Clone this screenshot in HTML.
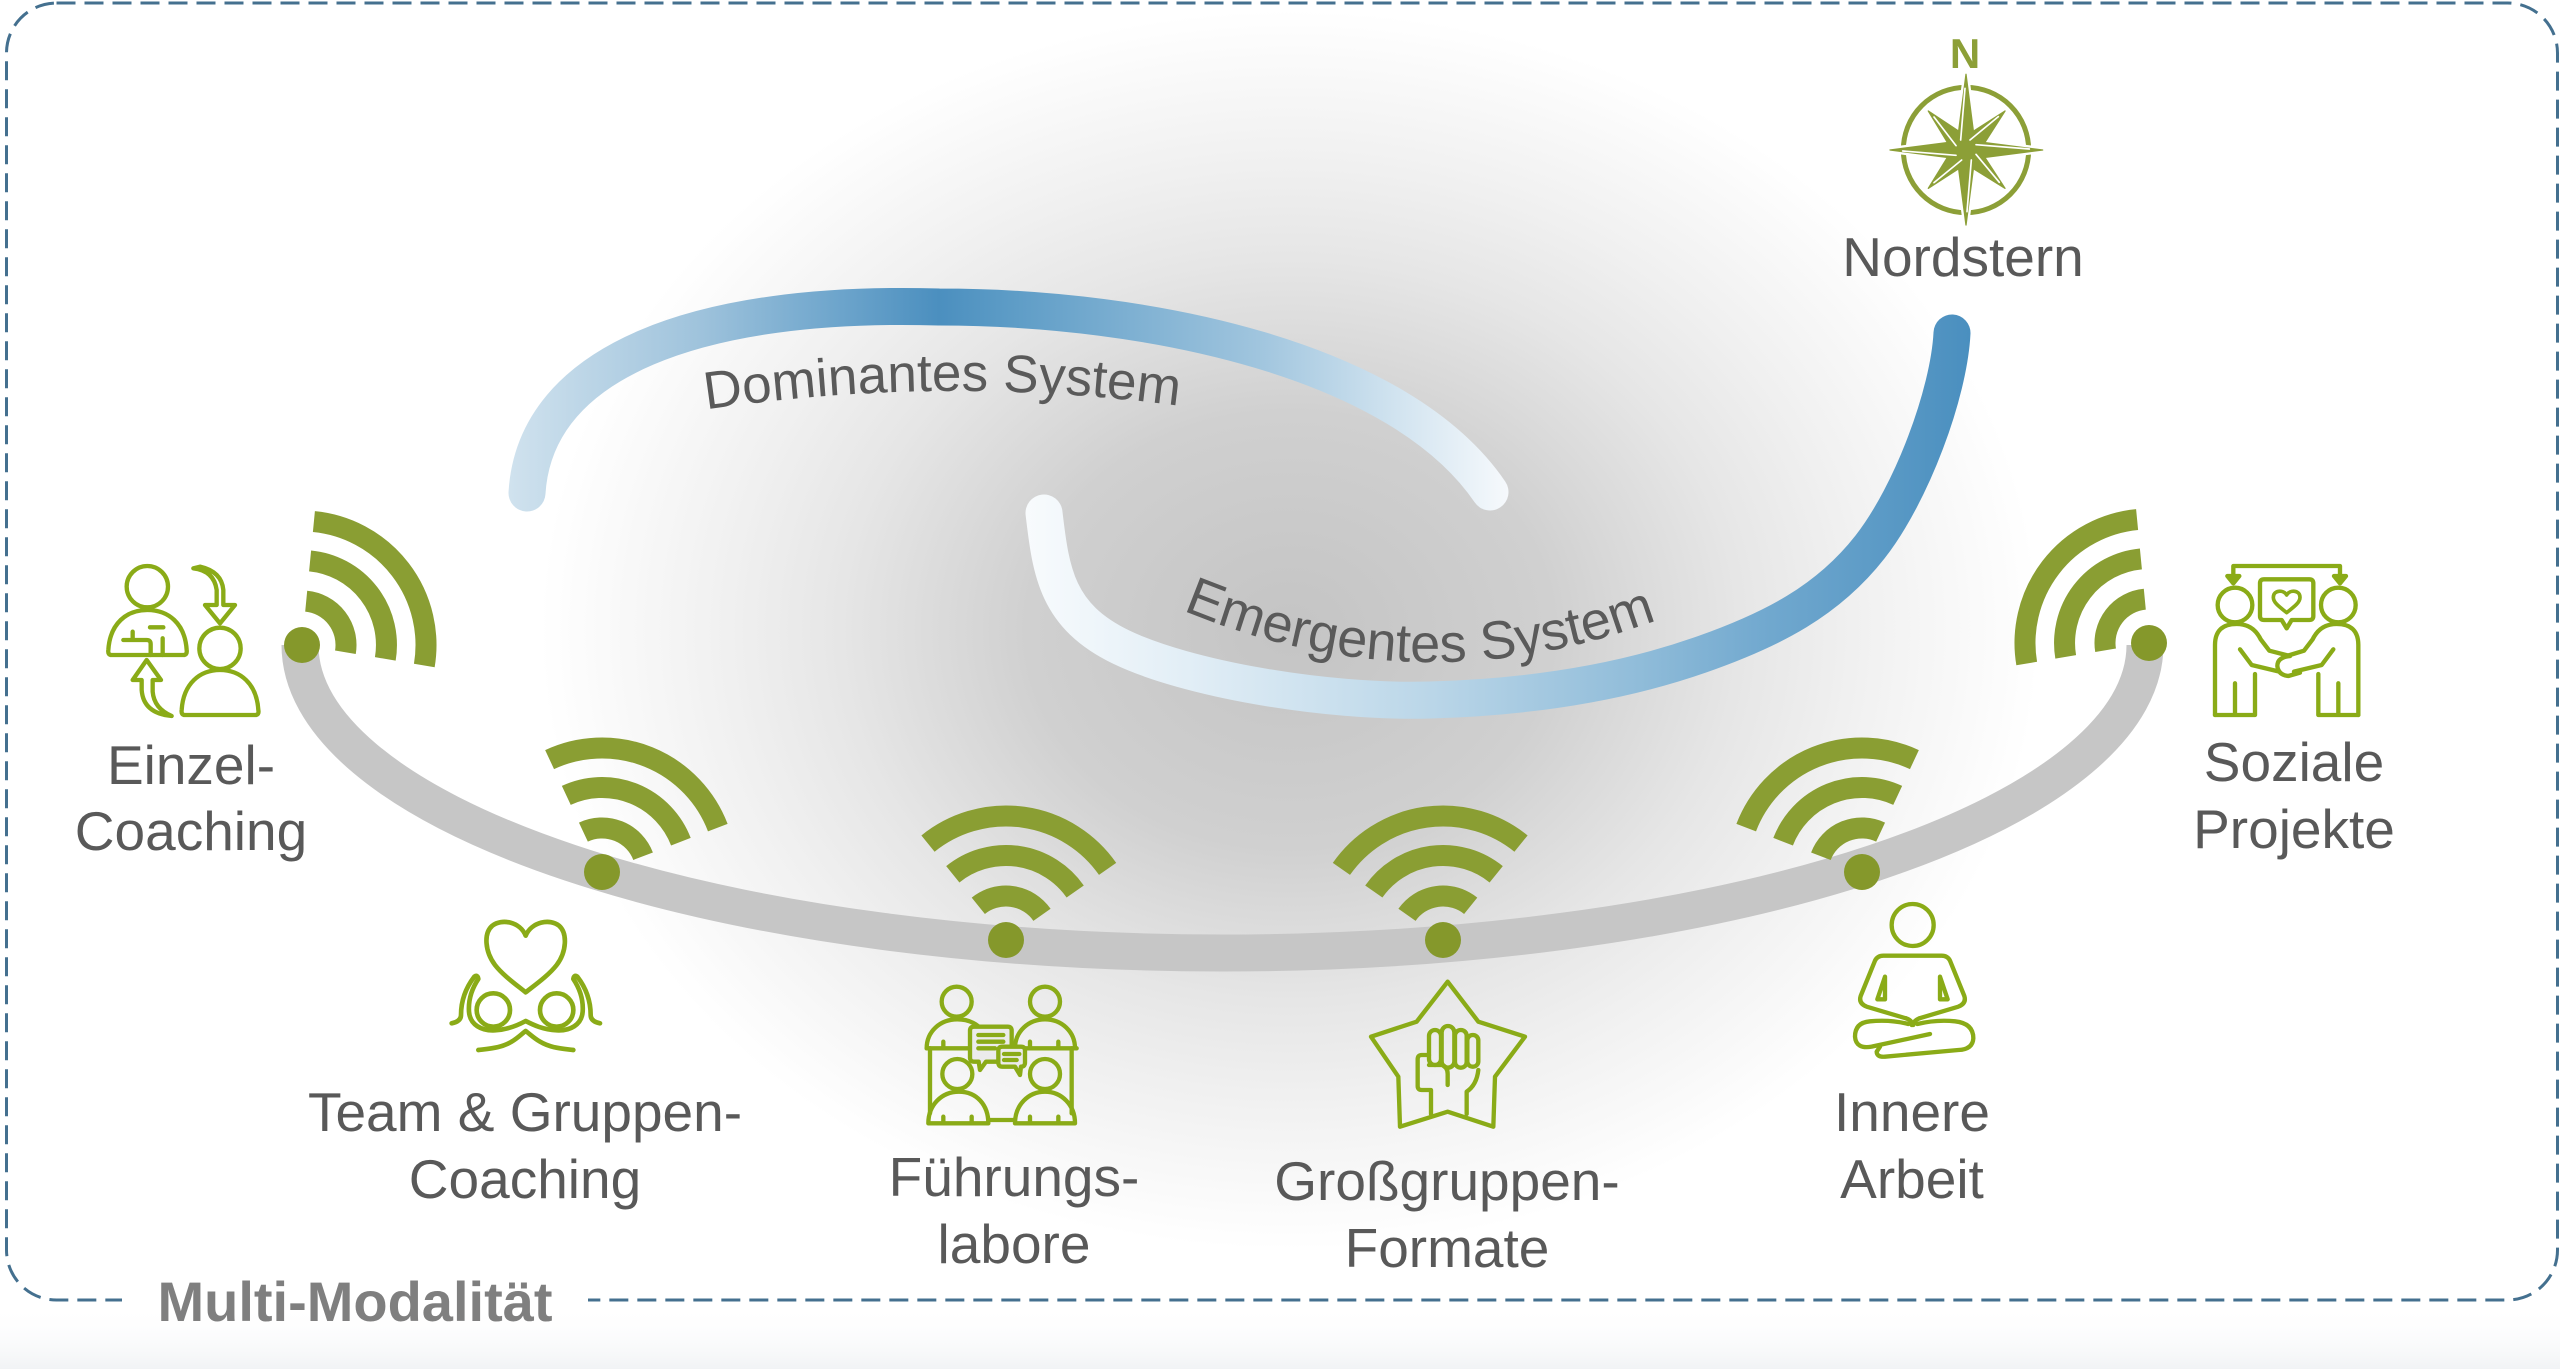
<!DOCTYPE html>
<html>
<head>
<meta charset="utf-8">
<style>
  html, body { margin: 0; padding: 0; background: #ffffff; }
  body { width: 2560px; height: 1369px; overflow: hidden; }
  svg { display: block; }
  text { font-family: "Liberation Sans", "DejaVu Sans", sans-serif; }
</style>
</head>
<body>
<svg width="2560" height="1369" viewBox="0 0 2560 1369" xmlns="http://www.w3.org/2000/svg">
  <defs>
    <radialGradient id="bg" gradientUnits="userSpaceOnUse" cx="1290" cy="630" r="750" gradientTransform="matrix(1 0 0 0.827 0 109)">
      <stop offset="0" stop-color="#c4c4c4"/>
      <stop offset="0.35" stop-color="#d0d0d0"/>
      <stop offset="0.45" stop-color="#d9d9d9"/>
      <stop offset="0.6" stop-color="#e6e6e6"/>
      <stop offset="0.75" stop-color="#f0f0f0"/>
      <stop offset="0.9" stop-color="#f9f9f9"/>
      <stop offset="1" stop-color="#ffffff"/>
    </radialGradient>
    <linearGradient id="bottomStrip" x1="0" y1="1305" x2="0" y2="1369" gradientUnits="userSpaceOnUse">
      <stop offset="0" stop-color="#ffffff" stop-opacity="0"/>
      <stop offset="1" stop-color="#f1f3f5"/>
    </linearGradient>
    <linearGradient id="domGrad" gradientUnits="userSpaceOnUse" x1="509" y1="0" x2="1508" y2="0">
      <stop offset="0" stop-color="#d0e2ee"/>
      <stop offset="0.19" stop-color="#9fc3dc"/>
      <stop offset="0.31" stop-color="#74a9ce"/>
      <stop offset="0.43" stop-color="#4b8fbf"/>
      <stop offset="0.49" stop-color="#5a9ac5"/>
      <stop offset="0.75" stop-color="#a0c5de"/>
      <stop offset="0.89" stop-color="#d2e4f0"/>
      <stop offset="1" stop-color="#f6f9fc"/>
    </linearGradient>
    <linearGradient id="emGrad" gradientUnits="userSpaceOnUse" x1="1026" y1="0" x2="1970" y2="0">
      <stop offset="0" stop-color="#f8fbfd"/>
      <stop offset="0.17" stop-color="#e2eef6"/>
      <stop offset="0.43" stop-color="#bad6e8"/>
      <stop offset="0.65" stop-color="#90bcd9"/>
      <stop offset="0.78" stop-color="#72a9cf"/>
      <stop offset="1" stop-color="#4a8fbf"/>
    </linearGradient>
    <path id="domText" d="M690 412 Q942 372 1195 408"/>
    <path id="emText" d="M1175 607 Q1420 712 1665 617"/>
  </defs>

  <!-- background -->
  <rect x="0" y="0" width="2560" height="1369" fill="#ffffff"/>
  <rect x="0" y="0" width="2560" height="1369" fill="url(#bg)"/>
  <rect x="0" y="1305" width="2560" height="64" fill="url(#bottomStrip)"/>

  <!-- dashed border -->
  <rect x="6.5" y="3" width="2551" height="1297" rx="50" ry="50" fill="none" stroke="#44708f" stroke-width="3" stroke-dasharray="19 9"/>
  <rect x="122" y="1288" width="466" height="24" fill="#ffffff"/>
  <text x="355" y="1321" font-size="56" font-weight="bold" fill="#7f7f7f" text-anchor="middle">Multi-Modalität</text>

  <!-- Dominantes System arc -->
  <path d="M527 493 C535 360 700 300 939 307 C1150 307 1400 360 1490 492" fill="none" stroke="url(#domGrad)" stroke-width="37" stroke-linecap="round"/>
  <text font-size="53" fill="#5a5a5a"><textPath href="#domText" startOffset="50%" text-anchor="middle">Dominantes System</textPath></text>

  <!-- Emergentes System arc -->
  <path d="M1044 513 C1051 573 1057 616 1121 647 C1185 678 1323 703 1430 700 C1537 697 1627 680.5 1700 655 C1773 629.5 1828 600.7 1870 547 C1912 493.3 1949 393 1952 333" fill="none" stroke="url(#emGrad)" stroke-width="37" stroke-linecap="round"/>
  <text font-size="54" fill="#5a5a5a"><textPath href="#emText" startOffset="50%" text-anchor="middle">Emergentes System</textPath></text>

  <!-- grey bowl -->
  <path d="M300 645 A922.5 308 0 0 0 2145 645" fill="none" stroke="#c6c6c6" stroke-width="37"/>

  <!-- wifi symbols -->
  <g fill="none" stroke="#8a9e33" stroke-width="21" stroke-linecap="butt">
    <path d="M306.2 601.2 A44 44 0 0 1 345.4 652.3"/>
    <path d="M310.1 560.9 A84.5 84.5 0 0 1 385.3 658.9"/>
    <path d="M313.9 521.6 A124 124 0 0 1 424.3 665.5"/>
    <path d="M583.4 832.1 A44 44 0 0 1 643.1 856.2"/>
    <path d="M566.3 795.4 A84.5 84.5 0 0 1 680.9 841.7"/>
    <path d="M549.6 759.6 A124 124 0 0 1 717.8 827.6"/>
    <path d="M978.3 905.8 A44 44 0 0 1 1042.0 914.8"/>
    <path d="M952.8 874.3 A84.5 84.5 0 0 1 1075.2 891.5"/>
    <path d="M928.0 843.6 A124 124 0 0 1 1107.6 868.9"/>
    <path d="M1407.0 914.8 A44 44 0 0 1 1470.7 905.8"/>
    <path d="M1373.8 891.5 A84.5 84.5 0 0 1 1496.2 874.3"/>
    <path d="M1341.4 868.9 A124 124 0 0 1 1521.0 843.6"/>
    <path d="M1820.9 856.2 A44 44 0 0 1 1880.6 832.1"/>
    <path d="M1783.1 841.7 A84.5 84.5 0 0 1 1897.7 795.4"/>
    <path d="M1746.2 827.6 A124 124 0 0 1 1914.4 759.6"/>
    <path d="M2105.6 650.3 A44 44 0 0 1 2144.8 599.2"/>
    <path d="M2065.7 656.9 A84.5 84.5 0 0 1 2140.9 558.9"/>
    <path d="M2026.7 663.5 A124 124 0 0 1 2137.1 519.6"/>
  </g>
  <g fill="#85982b">
    <circle cx="302" cy="645" r="18"/>
    <circle cx="602" cy="872" r="18"/>
    <circle cx="1006" cy="940" r="18"/>
    <circle cx="1443" cy="940" r="18"/>
    <circle cx="1862" cy="872" r="18"/>
    <circle cx="2149" cy="643" r="18"/>
  </g>

  <!-- Icons -->
  <g fill="none" stroke="#8aab17" stroke-width="13" stroke-linejoin="round" stroke-linecap="round">
    <!-- Einzel-Coaching -->
    <g transform="translate(90 540) scale(0.33333)">
      <circle cx="172" cy="140" r="62"/>
      <path d="M65 345 H280 Q292 345 290 330 C285 250 235 210 172 210 C110 210 60 250 55 330 Q53 345 65 345 Z"/>
      <path d="M180 262 H220 M100 300 H128 V275 M128 300 H170 Q182 300 182 312 V345 M218 295 V345"/>
      <path d="M310 85 Q372 92 380 150 V195 H345 L390 250 L435 195 H400 V150 Q395 95 330 80 Z"/>
      <circle cx="390" cy="325" r="62"/>
      <path d="M285 525 H495 Q508 525 505 510 C500 430 450 390 390 390 C330 390 280 430 275 510 Q273 525 285 525 Z"/>
      <path d="M245 528 Q160 520 155 450 V420 H128 L170 360 L213 420 H188 V455 Q192 505 245 528 Z"/>
    </g>

    <!-- Team & Gruppen-Coaching -->
    <g transform="translate(435 905) scale(0.33333)" stroke-width="14">
      <path d="M272 92 C255 50 200 40 172 62 C145 85 150 140 180 180 C205 212 245 240 272 262 C300 240 340 212 365 180 C395 140 398 85 372 62 C345 40 290 50 272 92 Z"/>
      <circle cx="175" cy="315" r="50"/>
      <circle cx="365" cy="315" r="50"/>
      <path d="M50 355 C65 352 78 345 78 330 C78 285 95 245 118 215 Q128 208 130 222 C108 255 100 290 102 320 C105 360 140 378 180 376 C220 374 250 360 272 348 C295 360 325 374 365 376 C405 378 440 360 443 320 C445 290 437 255 415 222 Q417 208 427 215 C450 245 467 285 467 330 C467 345 480 352 495 355"/>
      <path d="M130 435 C170 430 200 428 230 410 C250 398 262 385 272 378 C282 385 295 398 315 410 C345 428 375 430 415 435"/>
    </g>

    <!-- Fuehrungslabore -->
    <g transform="translate(880 780) scale(0.33333)">
      <circle cx="230" cy="665" r="45"/>
      <circle cx="495" cy="665" r="45"/>
      <path d="M140 805 C140 755 180 718 232 718 C270 718 295 735 305 750"/>
      <path d="M405 805 C405 755 445 718 495 718 C545 718 585 755 585 805"/>
      <path d="M140 805 H280 M395 805 H590"/>
      <path d="M190 785 V805 M275 785 V805 M450 785 V805 M535 785 V805"/>
      <path d="M150 805 V1000 M575 805 V1000"/>
      <circle cx="232" cy="882" r="45"/>
      <circle cx="495" cy="882" r="45"/>
      <path d="M145 1030 C145 975 185 935 237 935 C290 935 325 975 325 1030 Z"/>
      <path d="M405 1030 C405 975 445 935 495 935 C545 935 585 975 585 1030 Z"/>
      <path d="M325 1020 H405"/>
      <path d="M190 1010 V1030 M275 1010 V1030 M450 1010 V1030 M535 1010 V1030"/>
      <path d="M282 740 H383 Q395 740 395 752 V833 Q395 845 383 845 H318 L300 870 L296 845 H282 Q270 845 270 833 V752 Q270 740 282 740 Z" fill="#ebebeb"/>
      <path d="M295 765 H370 M295 785 H370 M295 805 H345"/>
      <path d="M367 800 H423 Q435 800 435 812 V848 Q435 860 423 860 L420 885 L405 860 H367 Q355 860 355 848 V812 Q355 800 367 800 Z" fill="#ebebeb"/>
      <path d="M372 822 H418 M372 840 H410"/>
    </g>

    <!-- Grossgruppen-Formate -->
    <g transform="translate(1355 970) scale(0.33333)">
      <path d="M278 35 L370 155 L510 200 L420 320 L415 470 L278 425 L135 470 L130 320 L48 200 L185 155 Z"/>
      <rect x="222" y="180" width="36" height="105" rx="18"/>
      <rect x="260" y="168" width="38" height="125" rx="19"/>
      <rect x="300" y="180" width="35" height="113" rx="17"/>
      <rect x="337" y="195" width="33" height="95" rx="16"/>
      <path d="M222 255 H200 Q188 255 188 268 V348 Q188 360 200 360 H228 V432 M335 432 V365 Q365 345 370 300"/>
      <path d="M222 285 H262 Q278 292 278 312 V345"/>
    </g>

    <!-- Innere Arbeit -->
    <g transform="translate(1830 890) scale(0.33333)">
      <circle cx="248" cy="105" r="63"/>
      <path d="M228 385 L110 350 Q85 340 92 318 L135 212 Q142 197 160 197 H335 Q353 197 360 212 L403 318 Q410 340 385 350 L268 385"/>
      <path d="M165 260 L142 328 H165 Z M330 260 L353 328 H330 Z"/>
      <path d="M228 385 Q248 392 245 405 M268 385 Q250 392 250 405"/>
      <path d="M235 402 Q180 388 120 394 Q75 398 75 440 Q78 478 125 470 L300 432"/>
      <path d="M262 402 Q320 388 375 394 Q430 400 430 445 Q428 478 385 480 L165 500 Q140 502 140 485 L150 470"/>
    </g>

    <!-- Soziale Projekte -->
    <g transform="translate(2190 550) scale(0.33333)">
      <path d="M130 88 V48 H450 V88"/>
      <path d="M112 78 H148 L130 100 Z M432 78 H468 L450 100 Z" fill="#8aab17"/>
      <path d="M222 88 H358 Q370 88 370 100 V198 Q370 210 358 210 H305 L290 235 L275 210 H222 Q210 210 210 198 V100 Q210 88 222 88 Z"/>
      <path d="M290 135 C280 118 250 120 250 142 C250 160 275 175 290 188 C305 175 330 160 330 142 C330 120 300 118 290 135 Z" stroke-width="11"/>
      <circle cx="135" cy="165" r="52"/>
      <circle cx="445" cy="165" r="52"/>
      <path d="M75 495 V285 Q75 222 140 222 Q190 222 212 268 L238 302 L300 318"/>
      <path d="M150 298 L185 345 L268 365"/>
      <path d="M195 372 V495 M135 400 V495 M75 495 H195"/>
      <path d="M505 495 V285 Q505 222 440 222 Q390 222 368 268 L342 302 L290 318"/>
      <path d="M430 298 L395 345 L312 365"/>
      <path d="M385 372 V495 M445 400 V495 M385 495 H505"/>
      <path d="M300 318 Q262 322 262 348 Q265 375 295 378 L330 368"/>
    </g>
  </g>

  <!-- Compass / Nordstern -->
  <text x="1965" y="68" font-size="42" font-weight="bold" fill="#8c9f37" text-anchor="middle">N</text>
  <g transform="translate(1870 25) scale(0.33333)">
    <circle cx="288" cy="375" r="188" fill="none" stroke="#8c9f37" stroke-width="15"/>
    <g fill="#ffffff" stroke="#ffffff" stroke-width="18" stroke-linejoin="miter">
      <polygon points="288,148 314,349 518,375 314,401 288,600 262,401 60,375 262,349"/>
      <polygon points="405,258 330,375 288,333"/>
      <polygon points="175,258 288,333 246,375"/>
      <polygon points="175,490 246,375 288,417"/>
      <polygon points="405,490 288,417 330,375"/>
    </g>
    <g fill="#8c9f37" stroke="#8c9f37" stroke-width="4" stroke-linejoin="round">
      <polygon points="288,375 288,333 405,258 330,375"/>
      <polygon points="288,375 246,375 175,258 288,333"/>
      <polygon points="288,375 288,417 175,490 246,375"/>
      <polygon points="288,375 330,375 405,490 288,417"/>
      <polygon points="288,148 314,349 518,375 314,401 288,600 262,401 60,375 262,349"/>
    </g>
    <g stroke="#ffffff" stroke-width="5" stroke-linecap="round" fill="none">
      <path d="M285 190 L272 345"/>
      <path d="M478 372 L318 359"/>
      <path d="M291 560 L304 405"/>
      <path d="M98 378 L258 391"/>
      <path d="M385 275 L300 345"/>
      <path d="M192 276 L258 362"/>
      <path d="M192 473 L275 405"/>
      <path d="M388 472 L318 388"/>
    </g>
  </g>

  <!-- Labels -->
  <g font-size="55" fill="#595959" text-anchor="middle">
    <text x="1963" y="276">Nordstern</text>
    <text x="191" y="784">Einzel-</text>
    <text x="191" y="850">Coaching</text>
    <text x="525" y="1131">Team &amp; Gruppen-</text>
    <text x="525" y="1198">Coaching</text>
    <text x="1014" y="1196">Führungs-</text>
    <text x="1014" y="1263">labore</text>
    <text x="1447" y="1200">Großgruppen-</text>
    <text x="1447" y="1267">Formate</text>
    <text x="1912" y="1131">Innere</text>
    <text x="1912" y="1198">Arbeit</text>
    <text x="2294" y="781">Soziale</text>
    <text x="2294" y="848">Projekte</text>
  </g>
</svg>
</body>
</html>
